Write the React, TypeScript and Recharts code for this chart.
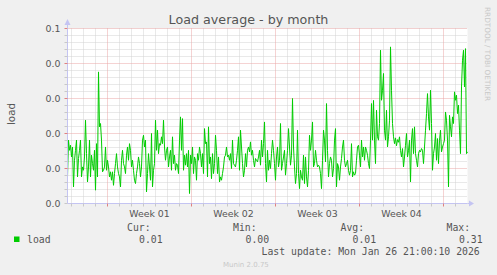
import React from 'react';
import { LineChart, Line, XAxis, YAxis, CartesianGrid, ReferenceLine } from 'recharts';

// load average in thousandths, one sample every 2 hours, oldest first
const loadMilli = [
  15.2, 36.2, 30.4, 33.3, 26.6, 32.3, 9.5, 24.7, 30.4, 36.2,
  15.2, 25.7, 30.4, 36.2, 15.2, 20.9, 19.0, 26.6, 47.6, 28.5,
  12.3, 20.9, 36.2, 15.2, 27.6, 22.8, 19.0, 30.4, 7.6, 34.2,
  15.2, 75.2, 43.8, 45.7, 36.2, 18.1, 19.0, 20.9, 32.3, 19.0,
  24.7, 20.9, 15.2, 18.1, 13.3, 18.1, 10.4, 17.1, 22.8, 28.5,
  20.9, 17.1, 15.2, 9.5, 24.7, 30.4, 22.8, 20.9, 17.1, 27.6,
  32.3, 24.7, 34.2, 30.4, 20.9, 24.7, 19.0, 13.3, 11.4, 17.1,
  20.9, 26.6, 22.8, 15.2, 20.9, 36.2, 39.0, 32.3, 36.2, 6.6,
  17.1, 28.5, 20.9, 13.3, 40.0, 9.5, 19.0, 22.8, 47.6, 30.4,
  41.9, 28.5, 34.2, 33.3, 38.1, 34.2, 47.6, 32.3, 24.7, 30.4,
  32.3, 20.9, 26.6, 30.4, 19.0, 38.1, 22.8, 27.6, 19.0, 22.8,
  21.9, 17.1, 36.2, 49.5, 30.4, 48.5, 19.0, 27.6, 21.9, 28.5,
  20.9, 30.4, 5.7, 27.6, 22.8, 32.3, 17.1, 26.6, 24.7, 13.3,
  28.5, 24.7, 32.3,
  28.5, 20.9, 28.5, 17.1, 42.8, 34.2, 35.2, 15.2, 43.8, 22.8,
  26.6, 14.2, 28.5, 17.1, 22.8, 39.0, 30.4, 17.1, 26.6, 12.3,
  15.2, 13.3, 17.1, 20.9, 26.6, 27.6, 32.3, 26.6, 27.6, 24.7,
  28.5, 20.0, 36.2, 22.8, 21.9, 20.9, 24.7, 30.4, 38.1, 19.0,
  41.9, 32.3, 22.8, 15.2, 19.0, 28.5, 20.9, 30.4, 32.3, 29.5,
  35.2, 27.6, 30.4, 24.7, 20.9, 25.7, 24.7, 23.8, 26.6, 30.4,
  21.9, 36.2, 26.6, 34.2, 46.6, 22.8, 12.3, 30.4, 19.0, 24.7,
  20.0, 28.5, 36.2, 30.4, 22.8, 13.3, 26.6, 32.3, 20.9, 24.7,
  45.7, 19.0, 22.8, 26.6, 30.4, 16.2, 22.8, 30.4, 42.8, 32.3,
  21.9, 27.6, 60.0, 32.3, 20.9, 11.4, 17.1, 41.9, 17.1, 8.5,
  19.0, 15.2, 13.3, 27.6, 11.4, 26.6, 15.2, 9.5, 19.0, 39.0,
  30.4, 36.2, 46.6, 20.9, 22.8, 30.4, 24.7, 20.9, 21.9, 20.9,
  17.1, 8.5, 24.7, 41.9, 36.2, 23.8, 57.1, 30.4, 15.2, 22.8,
  26.6, 24.7,
  15.2, 20.0, 36.2, 42.8, 9.5, 22.8, 20.9, 13.3, 20.9, 25.7,
  32.3, 36.2, 24.7, 20.9, 22.8, 24.7, 19.0, 16.2, 19.0, 34.2,
  15.2, 18.1, 16.2, 17.1, 24.7, 32.3, 33.3, 27.6, 20.9, 36.2,
  26.6, 32.3,
  24.7, 32.3, 30.4, 27.6, 22.8, 20.0, 36.2, 57.1, 36.2, 58.9,
  36.2, 22.8, 53.3, 38.1, 36.2, 45.7, 87.6, 59.0, 64.7, 74.3,
  41.9, 36.2, 53.3, 32.3, 38.1, 47.6, 89.5, 64.7, 45.7, 38.1,
  34.2, 37.5, 33.0, 36.5, 35.0, 38.1, 30.4, 26.6, 31.4, 20.9,
  26.6, 33.3, 40.0, 26.6, 30.4, 36.2, 12.3, 36.2, 42.8, 28.5,
  43.8, 28.5, 24.7, 20.9, 28.5, 30.4, 29.5, 31.4, 30.4, 22.8,
  32.3, 41.9, 51.4, 62.8, 49.5, 41.9, 64.7, 45.7, 19.0, 28.5,
  32.3, 40.0, 24.7, 37.1, 22.8, 36.2, 41.9, 29.5, 32.3, 34.2,
  36.2, 52.3, 47.6, 36.2, 9.5, 50.4, 43.8, 38.1, 49.5, 45.7,
  63.8, 59.0, 61.9, 51.4, 56.2, 41.9, 28.5, 66.6, 81.9, 87.6,
  66.6, 88.5, 28.5, 29.5,
];

const SAMPLE_HOURS = 2;
const SPAN_HOURS = 800;
const weekStarts = [80, 248, 416, 584, 752]; // hours from left edge
const weekLabels = ['Week 01', 'Week 02', 'Week 03', 'Week 04'];
const yLabels = ['0.0', '0.0', '0.0', '0.0', '0.0', '0.1'];
const Y_MINOR = 0.004;
const Y_MAJOR = 0.02;

const data = loadMilli.map((v, i) => ({ t: i * SAMPLE_HOURS, load: v / 1000 }));

const dayTicks: number[] = [];
for (let h = 8; h < SPAN_HOURS; h += 24) dayTicks.push(h);
const weekMids = weekStarts.slice(0, -1).map((s, i) => (s + weekStarts[i + 1]) / 2);
const minorDays = dayTicks.filter((h) => !weekStarts.includes(h));

const yTicks: number[] = [];
for (let k = 0; k <= 25; k++) yTicks.push(+(k * Y_MINOR).toFixed(3));
const yMajors = yTicks.filter((v) => Math.round(v / Y_MINOR) % 5 === 0 && v > 0);
const yMinors = yTicks.filter((v) => Math.round(v / Y_MINOR) % 5 !== 0);

const RED = '#eaa6a6';
const GRAY = '#d2d2d2';
const AXIS = '#c4c4f2';
const TEXT = '#555555';

const XTick = (props: any) => {
  const { x, y, payload } = props;
  const wk = weekMids.indexOf(payload.value);
  if (wk >= 0) {
    return (
      <text x={x} y={y} dy={13} textAnchor="middle" fontSize={9.4} fontFamily="DejaVu Sans" fill={TEXT}>
        {weekLabels[wk]}
      </text>
    );
  }
  const boundary = weekStarts.includes(payload.value);
  return <line x1={x} x2={x} y1={y} y2={y + 3} stroke={boundary ? '#e08080' : '#c8c8c8'} />;
};

const YTick = (props: any) => {
  const { x, y, payload } = props;
  const step = Math.round(payload.value / Y_MINOR);
  const major = step % 5 === 0;
  return (
    <g>
      <line x1={x - 3} x2={x} y1={y} y2={y} stroke={major && step > 0 ? '#e08080' : '#c8c8c8'} />
      {major && (
        <text x={x - 7} y={y} dy="0.35em" textAnchor="end" fontSize={9.4} fontFamily="DejaVu Sans" fill={TEXT}>
          {yLabels[Math.round(payload.value / Y_MAJOR)]}
        </text>
      )}
    </g>
  );
};

const mono = { fontFamily: 'DejaVu Sans Mono', fontSize: 9.8, fill: TEXT };

export default function App() {
  return (
    <div style={{ position: 'absolute', left: 0, top: 0, width: 497, height: 275, background: '#f0f0f0' }}>
      <LineChart
        width={497}
        height={275}
        data={data}
        margin={{ top: 28.5, right: 29.5, bottom: 41.5, left: 7.5 }}
      >
        <CartesianGrid
          fill="#ffffff"
          stroke={GRAY}
          strokeDasharray="1 1"
          horizontalValues={yMinors}
          verticalValues={minorDays}
        />
        {yMajors.map((v) => (
          <ReferenceLine key={'y' + v} y={v} stroke={RED} strokeDasharray="1 1" />
        ))}
        {weekStarts.map((h) => (
          <ReferenceLine key={'x' + h} x={h} stroke={RED} strokeDasharray="1 1" />
        ))}
        <XAxis
          dataKey="t"
          type="number"
          domain={[0, SPAN_HOURS]}
          ticks={[...dayTicks, ...weekMids].sort((a, b) => a - b)}
          interval={0}
          tickSize={0}
          tickMargin={0}
          tickLine={false}
          tick={XTick}
          axisLine={{ stroke: AXIS }}
          height={30}
        />
        <YAxis
          type="number"
          domain={[0, 0.1]}
          ticks={yTicks}
          interval={0}
          tickSize={0}
          tickMargin={0}
          tickLine={false}
          tick={YTick}
          axisLine={{ stroke: AXIS }}
          width={60}
        />
        <Line
          type="linear"
          dataKey="load"
          stroke="#00cc00"
          strokeWidth={1}
          dot={false}
          isAnimationActive={false}
        />
      </LineChart>
      <svg
        width={497}
        height={275}
        style={{ position: 'absolute', left: 0, top: 0, pointerEvents: 'none' }}
      >
        <line x1={67.5} x2={67.5} y1={28.5} y2={22} stroke={AXIS} />
        <polygon points="64.5,25 70.5,25 67.5,19" fill={AXIS} />
        <line x1={467.5} x2={470} y1={203.5} y2={203.5} stroke={AXIS} />
        <polygon points="469,200.5 469,206.5 474,203.5" fill={AXIS} />
        <text x={248.5} y={24} textAnchor="middle" fontSize={12.7} fontFamily="DejaVu Sans" fill={TEXT}>
          Load average - by month
        </text>
        <text transform="translate(15,114) rotate(-90)" textAnchor="middle" fontSize={10.3} fontFamily="DejaVu Sans" fill={TEXT}>
          load
        </text>
        <text transform="translate(485,7) rotate(90)" fontSize={7.3} fontFamily="DejaVu Sans" fill="#c8c8c8">
          RRDTOOL / TOBI OETIKER
        </text>
        <rect x={14} y={236.5} width={5.5} height={5.5} fill="#00cc00" />
        <text x={27} y={243} {...mono}>load</text>
        <text x={127} y={231} {...mono}>Cur:</text>
        <text x={139} y={243} {...mono}>0.01</text>
        <text x={233} y={231} {...mono}>Min:</text>
        <text x={245.5} y={243} {...mono}>0.00</text>
        <text x={340.5} y={231} {...mono}>Avg:</text>
        <text x={352.5} y={243} {...mono}>0.01</text>
        <text x={446.5} y={231} {...mono}>Max:</text>
        <text x={459} y={243} {...mono}>0.31</text>
        <text x={261.5} y={255} {...mono}>Last update: Mon Jan 26 21:00:10 2026</text>
        <text x={223} y={267} fontSize={7} fontFamily="DejaVu Sans" fill="#c8c8c8">
          Munin 2.0.75
        </text>
      </svg>
    </div>
  );
}
